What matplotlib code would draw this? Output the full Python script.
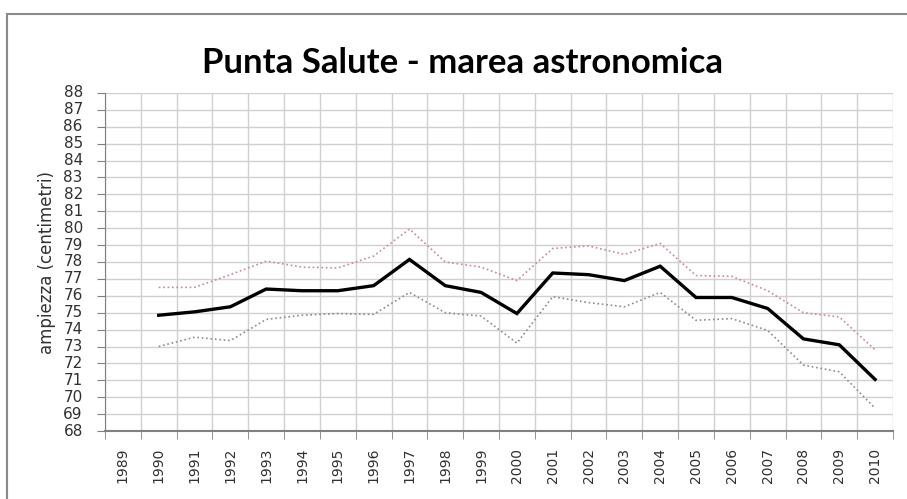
import matplotlib.pyplot as plt
from matplotlib.patches import Rectangle

# anni (categorie sull'asse x)
years = list(range(1989, 2011))

# valori (1989 senza dati)
media = [None, 74.85, 75.05, 75.35, 76.4, 76.3, 76.3, 76.6, 78.15, 76.6, 76.2,
         74.95, 77.35, 77.25, 76.9, 77.75, 75.9, 75.9, 75.25, 73.45, 73.1, 71.05]
massimo = [None, 76.5, 76.5, 77.25, 78.05, 77.7, 77.65, 78.35, 79.95, 78.0, 77.7,
           76.9, 78.8, 78.95, 78.45, 79.1, 77.2, 77.15, 76.3, 75.0, 74.75, 72.8]
minimo = [None, 73.0, 73.55, 73.35, 74.6, 74.85, 74.95, 74.9, 76.2, 75.0, 74.8,
          73.2, 75.95, 75.6, 75.35, 76.2, 74.55, 74.65, 73.95, 71.9, 71.5, 69.35]

fig = plt.figure(figsize=(9.07, 4.99), dpi=100)
ax = fig.add_axes([105 / 907, 1 - 431 / 499, 788 / 907, 338 / 499])

x = list(range(len(years)))
xs = x[1:]
ax.plot(xs, massimo[1:], linestyle=":", color="#c98a94", linewidth=1.2)
ax.plot(xs, minimo[1:], linestyle=":", color="#8c8c8c", linewidth=1.2)
ax.plot(xs, media[1:], color="black", linewidth=2.4, solid_joinstyle="miter")

ax.set_xlim(-0.5, len(years) - 0.5)
ax.set_ylim(68, 88)
ax.set_yticks(range(68, 89))
ax.set_xticks(x)
ax.set_xticklabels([str(y) for y in years], rotation=90, fontsize=10)
ax.set_xticks([i - 0.5 for i in range(len(years) + 1)], minor=True)
ax.tick_params(axis="x", which="major", length=0, pad=12, colors="#303030")
ax.tick_params(axis="x", which="minor", length=6, color="#808080")
ax.tick_params(axis="y", length=6, pad=10, labelsize=11, color="#808080",
               labelcolor="#303030")
for lab in ax.get_yticklabels():
    lab.set_verticalalignment("center")

ax.grid(True, which="minor", axis="x", color="#d0d0d0", linewidth=1)
ax.grid(True, which="major", axis="y", color="#d0d0d0", linewidth=1)
ax.set_axisbelow(True)

for s in ["top", "right"]:
    ax.spines[s].set_visible(False)
ax.spines["left"].set_color("#808080")
ax.spines["bottom"].set_color("#808080")
ax.spines["bottom"].set_linewidth(1.5)

ax.set_ylabel("ampiezza (centimetri)", fontsize=12, color="#303030", labelpad=5)

fig.text(462 / 907, 1 - 63 / 499, "Punta Salute - marea astronomica",
         ha="center", va="center", fontsize=25, fontweight="bold", family="Lato")

# cornice del grafico
fig.patches.append(Rectangle((7 / 907, -0.2), 2, 1 - 14 / 499 + 0.2,
                             transform=fig.transFigure, fill=False,
                             edgecolor="#8a8a8a", linewidth=1.5))

fig.savefig("out.png", dpi=100)
